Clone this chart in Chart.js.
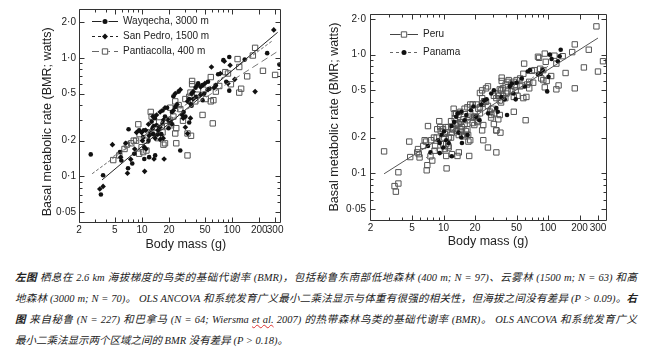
<!DOCTYPE html>
<html><head><meta charset="utf-8">
<script src="https://cdn.jsdelivr.net/npm/chart.js@4.4.1/dist/chart.umd.min.js"></script>
<style>
body{margin:0;background:#fff;width:650px;height:356px;overflow:hidden;position:relative;}
canvas{position:absolute;top:0}
#c1{left:0}#c2{left:325px}
.cap{position:absolute;left:15px;width:622px;font-family:"Liberation Serif","Noto Sans CJK SC",serif;font-style:italic;font-size:10.5px;color:#222;white-space:nowrap;text-align:justify;text-align-last:justify;line-height:14px}
.cap.last{text-align:left;text-align-last:left}
.cap b{font-weight:bold}
.sp{text-decoration:underline wavy #d33;text-decoration-thickness:1px}
</style></head>
<body>
<canvas id="c1" width="325" height="260"></canvas>
<canvas id="c2" width="325" height="260"></canvas>
<div class="cap" style="top:271px"><b>左图</b> 栖息在 2.6 km 海拔梯度的鸟类的基础代谢率 (BMR)，包括秘鲁东南部低地森林 (400 m; N = 97)、云雾林 (1500 m; N = 63) 和高</div>
<div class="cap" style="top:292px">地森林 (3000 m; N = 70)。 OLS ANCOVA 和系统发育广义最小二乘法显示与体重有很强的相关性，但海拔之间没有差异 (P &gt; 0.09)。<b>右</b></div>
<div class="cap" style="top:313px"><b>图</b> 来自秘鲁 (N = 227) 和巴拿马 (N = 64; Wiersma <span class="sp">et al.</span> 2007) 的热带森林鸟类的基础代谢率 (BMR)。 OLS ANCOVA 和系统发育广义</div>
<div class="cap last" style="top:334px">最小二乘法显示两个区域之间的 BMR 没有差异 (P &gt; 0.18)。</div>
<script>
// ---- tick labels ----
const xTickVals=[2,5,10,20,50,100,200,300];
const xTickLabels=['2','5','10','20','50','100','200','300'];
const yTickVals=[0.05,0.1,0.2,0.5,1,2];
const yTickLabels=['0·05','0·1','0·2','0·5','1·0','2·0'];

// ---- Wayqecha, 3000 m (filled circles) ----
const wayMass=[2.7,3.5,3.7,5.7,5.9,7.1,7.0,7.8,8.2,9.3,10.5,10.3,10.6,10.6,11.8,12.4,12.8,13.9,13.1,14.5,13.3,14.8,12,14,16.9,18,16.9,19,20.6,19.7,16.4,21.5,23.4,22.3,25.5,26.6,29,30.3,33.4,35.5,35.5,39.3,42,40,47,47,54,33.4,49,70,80,93,86,93,138,245,335,66,56];
const wayBmr=[0.153,0.070,0.102,0.16,0.136,0.25,0.117,0.128,0.155,0.245,0.245,0.215,0.176,0.14,0.2,0.235,0.29,0.31,0.255,0.27,0.227,0.225,0.145,0.15,0.28,0.32,0.36,0.38,0.295,0.255,0.227,0.35,0.385,0.475,0.52,0.165,0.35,0.32,0.45,0.395,0.5,0.56,0.61,0.47,0.44,0.59,0.63,0.285,0.5,0.73,0.96,1.02,0.63,0.53,0.97,1.1,0.88,0.59,0.55];
// ---- San Pedro, 1500 m (filled diamonds) ----
const spMass=[3.4,3.7,4.7,5.8,6.6,7.5,6.9,8.3,8.7,9.9,11,10.1,11.1,10.7,12,11.8,13.2,14.5,13.5,15,14,15.9,13.6,15.9,17.4,15.9,18,19.5,21.5,17.6,17.2,22.3,24.5,23.4,26.6,27.9,28.7,32,34.5,32,37,41,37,44.7,44.7,50,30.3,34.5,59,74,82,95,90,107,180,290,63,54];
const spBmr=[0.078,0.082,0.185,0.145,0.19,0.139,0.106,0.17,0.235,0.235,0.245,0.2,0.17,0.11,0.22,0.275,0.32,0.33,0.265,0.245,0.21,0.205,0.14,0.26,0.3,0.35,0.38,0.3,0.275,0.14,0.21,0.36,0.405,0.5,0.54,0.33,0.31,0.43,0.41,0.23,0.52,0.59,0.45,0.49,0.57,0.61,0.26,0.31,0.84,0.74,0.94,0.87,0.61,0.66,0.52,1.73,0.56,0.54];
// ---- Pantiacolla, 400 m (open squares) ----
const pantMass=[4.8,5.6,6.4,6.8,7.6,8.1,8.6,9.1,9.4,9.3,9.9,10.3,11.2,11.2,12.2,12.5,12.8,13.9,14.5,15,15.5,16.9,17.3,18,19,20.3,21,20.6,22.3,23.4,24,23.4,24,25.5,26.6,28.5,30.3,32,32,35,33.4,34.5,36,36,39,41,47,48,51,58,62,58,61,66,72,84,90,97,115,120,120,126,147,170,180,220,300];
const pantBmr=[0.137,0.15,0.17,0.185,0.19,0.2,0.2,0.275,0.227,0.155,0.176,0.16,0.165,0.2,0.235,0.35,0.32,0.26,0.235,0.21,0.285,0.235,0.185,0.19,0.265,0.3,0.27,0.38,0.32,0.43,0.255,0.23,0.19,0.4,0.37,0.295,0.45,0.15,0.23,0.22,0.47,0.51,0.64,0.6,0.43,0.49,0.33,0.54,0.45,0.43,0.44,0.69,0.28,0.52,0.58,0.76,0.74,0.6,0.98,0.84,0.51,0.55,0.7,1.05,1.22,0.78,0.72];
// ---- Panama (filled circles, right panel) ----
const pnmMass=[7.1,7.5,9.2,12,9.6,10.1,10.6,11.2,11.9,12.6,13.2,13.7,14.8,13.9,14.8,15.9,16.5,17,18.3,19.3,20.4,22,23,24.5,25.8,26.7,28.6,30.3,32,33,35.8,38.5,40.5,43,45,46.5,49,50,56,60,64,67,80,85,89,98,101,104,108,124,129,132,8.9,9.2,9.9,15];
const pnmBmr=[0.17,0.15,0.148,0.139,0.21,0.225,0.19,0.18,0.25,0.27,0.3,0.32,0.33,0.22,0.2,0.28,0.31,0.21,0.34,0.365,0.3,0.28,0.38,0.41,0.42,0.32,0.47,0.5,0.355,0.33,0.44,0.42,0.31,0.54,0.57,0.47,0.42,0.58,0.63,0.54,0.72,0.74,0.68,0.69,0.74,0.49,0.65,1.0,0.92,0.88,0.97,1.1,0.19,0.18,0.165,0.18];

// ---- fitted regression lines (end points) ----
const wayFitMass=[3.6,320], wayFitBmr=[0.093,1.65];
const spFitMass=[2.8,280], spFitBmr=[0.105,1.4];
const pantFitMass=[4.8,310], pantFitBmr=[0.147,1.12];
const peruFitMass=[2.7,300], peruFitBmr=[0.099,1.38];
const pnmFitMass=[6.8,100], pnmFitBmr=[0.135,0.8];

const pts=(m,b)=>m.map((v,i)=>({x:v,y:b[i]}));
const FONT='"Liberation Sans", Arial, sans-serif';

const framePlugin={id:'frame',afterDatasetsDraw(chart){
  const {ctx,chartArea:a,scales:{x,y}}=chart;
  const L=Math.round(a.left)+0.5,R=Math.round(a.right)+0.5,T=Math.round(a.top)+0.5,B=Math.round(a.bottom)+0.5;
  ctx.save();
  ctx.strokeStyle='#333';ctx.lineWidth=1;ctx.setLineDash([]);
  ctx.beginPath();ctx.rect(L,T,R-L,B-T);ctx.stroke();
  const vals=[];for(let e=-2;e<=3;e++)for(let m=1;m<=9;m++)vals.push(+(m*Math.pow(10,e)).toPrecision(3));
  ctx.beginPath();
  vals.forEach(v=>{
    const major=xTickVals.includes(v)||yTickVals.includes(v);
    const len=major?5:3;
    if(v>=x.min&&v<=x.max){const p=Math.round(x.getPixelForValue(v))+0.5;ctx.moveTo(p,B);ctx.lineTo(p,B-len);ctx.moveTo(p,T);ctx.lineTo(p,T+len);}
    if(v>=y.min&&v<=y.max){const p=Math.round(y.getPixelForValue(v))+0.5;ctx.moveTo(L,p);ctx.lineTo(L+len,p);ctx.moveTo(R,p);ctx.lineTo(R-len,p);}
  });
  ctx.stroke();ctx.restore();
}};

const legendPlugin={id:'inlegend',afterDraw(chart,args,opts){
  const {ctx}=chart;
  ctx.save();
  opts.items.forEach(it=>{
    ctx.setLineDash(it.dash);ctx.strokeStyle=it.lineColor;ctx.lineWidth=1;
    ctx.beginPath();ctx.moveTo(opts.x0,it.y+0.5);ctx.lineTo(opts.x1,it.y+0.5);ctx.stroke();
    ctx.setLineDash([]);
    ctx.fillStyle='#fff';ctx.strokeStyle=it.stroke;ctx.lineWidth=1;
    Chart.helpers.drawPoint(ctx,{pointStyle:it.style,radius:it.radius+1,rotation:0,borderWidth:0},(opts.x0+opts.x1)/2,it.y+0.5);
    ctx.fillStyle=it.fill==='transparent'?'#fff':it.fill;
    Chart.helpers.drawPoint(ctx,{pointStyle:it.style,radius:it.radius,rotation:0,borderWidth:it.fill==='transparent'?1:0},(opts.x0+opts.x1)/2,it.y+0.5);
    ctx.fillStyle='#222';ctx.font='10px '+FONT;ctx.textBaseline='middle';ctx.textAlign='left';
    ctx.fillText(it.text,opts.tx,it.y+0.5);
  });
  ctx.restore();
}};

function scales(cfg){
  return {
    x:{type:'logarithmic',min:cfg.xmin,max:cfg.xmax,
      afterBuildTicks:s=>{s.ticks=xTickVals.map(v=>({value:v}));},
      afterFit:s=>{s.height=cfg.xh;},
      grid:{display:false,drawTicks:false},border:{display:false},
      ticks:{autoSkip:false,maxRotation:0,padding:cfg.xpad,color:'#222',font:{family:FONT,size:10},callback:(v,i)=>xTickLabels[i]},
      title:{display:true,text:cfg.xtitle,color:'#222',font:{family:FONT,size:12.5},padding:{top:0,bottom:cfg.xtpad}}},
    y:{type:'logarithmic',min:cfg.ymin,max:cfg.ymax,
      afterBuildTicks:s=>{s.ticks=yTickVals.map(v=>({value:v}));},
      afterFit:s=>{s.width=cfg.yw;},
      grid:{display:false,drawTicks:false},border:{display:false},
      ticks:{autoSkip:false,padding:cfg.ypad,color:'#222',font:{family:FONT,size:10},callback:(v,i)=>yTickLabels[i]},
      title:{display:true,text:cfg.ytitle,color:'#222',font:{family:FONT,size:12.5},padding:{top:cfg.ytpad,bottom:0}}}
  };
}

const lineDs=(m,b,color,dash)=>({data:pts(m,b),showLine:true,pointRadius:0,borderColor:color,borderWidth:1,borderDash:dash,fill:false});

new Chart(document.getElementById('c1'),{
  type:'scatter',
  data:{datasets:[
    lineDs(wayFitMass,wayFitBmr,'#222',[]),
    lineDs(spFitMass,spFitBmr,'#666',[3,2]),
    lineDs(pantFitMass,pantFitBmr,'#777',[7,4]),
    {data:pts(wayMass,wayBmr),pointStyle:'circle',pointRadius:2.3,backgroundColor:'#111',borderWidth:0},
    {data:pts(spMass,spBmr),pointStyle:'rectRot',pointRadius:2.8,backgroundColor:'#111',borderWidth:0},
    {data:pts(pantMass,pantBmr),pointStyle:'rect',pointRadius:3.8,backgroundColor:'rgba(255,255,255,0)',borderColor:'#555',borderWidth:1}
  ]},
  options:{responsive:false,animation:false,events:[],devicePixelRatio:1,
    layout:{padding:{left:0,right:45,top:6,bottom:0}},
    plugins:{legend:{display:false},tooltip:{enabled:false},
      inlegend:{x0:92,x1:118,tx:123,items:[
        {text:'Wayqecha, 3000 m',y:21,dash:[],lineColor:'#222',style:'circle',radius:2.5,fill:'#111',stroke:'#111'},
        {text:'San Pedro, 1500 m',y:36,dash:[3,3],lineColor:'#222',style:'rectRot',radius:3,fill:'#111',stroke:'#111'},
        {text:'Pantiacolla, 400 m',y:51,dash:[7,4],lineColor:'#666',style:'rect',radius:3.8,fill:'transparent',stroke:'#555'}
      ]}},
    scales:scales({xmin:2,xmax:340,ymin:0.041,ymax:2.6,xh:38,yw:79,xpad:2,ypad:3,xtpad:7.5,ytpad:40,
      xtitle:'\u2003Body mass (g)',ytitle:'Basal metabolic rate (BMR; watts)\u2003'})
  },
  plugins:[framePlugin,legendPlugin]
});

new Chart(document.getElementById('c2'),{
  type:'scatter',
  data:{datasets:[
    lineDs(peruFitMass,peruFitBmr,'#555',[]),
    lineDs(pnmFitMass,pnmFitBmr,'#777',[3,3]),
    {data:pts(pnmMass,pnmBmr),pointStyle:'circle',pointRadius:2.3,backgroundColor:'#111',borderWidth:0},
    {data:pts(wayMass.concat(spMass,pantMass),wayBmr.concat(spBmr,pantBmr)),pointStyle:'rect',pointRadius:3.8,backgroundColor:'rgba(255,255,255,0)',borderColor:'#555',borderWidth:1}
  ]},
  options:{responsive:false,animation:false,events:[],devicePixelRatio:1,
    layout:{padding:{left:0,right:44,top:14,bottom:0}},
    plugins:{legend:{display:false},tooltip:{enabled:false},
      inlegend:{x0:65,x1:93,tx:98,items:[
        {text:'Peru',y:34,dash:[],lineColor:'#444',style:'rect',radius:3.8,fill:'transparent',stroke:'#555'},
        {text:'Panama',y:52,dash:[3,3],lineColor:'#666',style:'circle',radius:2.5,fill:'#111',stroke:'#111'}
      ]}},
    scales:scales({xmin:1.98,xmax:358,ymin:0.0404,ymax:2.2,xh:40,yw:45,xpad:2.5,ypad:4,xtpad:10.5,ytpad:2.5,
      xtitle:'Body mass (g)',ytitle:'Basal metabolic rate (BMR; watts)'})
  },
  plugins:[framePlugin,legendPlugin]
});
</script>
</body></html>
